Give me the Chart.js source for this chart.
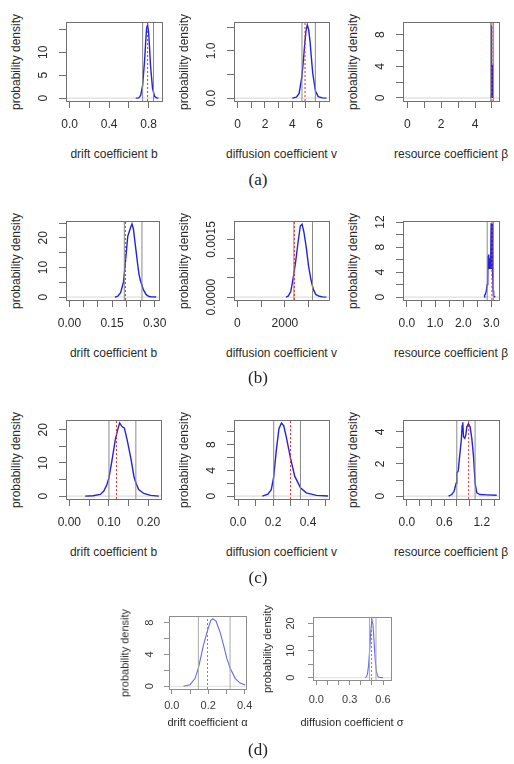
<!DOCTYPE html>
<html><head><meta charset="utf-8">
<script src="https://cdn.jsdelivr.net/npm/chart.js@4.4.1/dist/chart.umd.min.js"></script>
<style>
html,body{margin:0;padding:0;background:#fff;width:514px;height:764px;overflow:hidden;position:relative;}
.cap{position:absolute;font-family:"Liberation Serif","DejaVu Serif",serif;font-size:17px;color:#222;transform:translate(-50%,-50%);white-space:nowrap;}
.ttl{position:absolute;font-family:"Liberation Sans",Arial,Helvetica,sans-serif;color:#2a2a2a;white-space:nowrap;line-height:1;}
.pn{position:absolute;}
</style></head><body>
<script>
// ---------------- data ----------------
const captions = ['(a)', '(b)', '(c)', '(d)'];
const yTitleText = 'probability density';
const xTitlesABC = ['drift coefficient b', 'diffusion coefficient v', 'resource coefficient β'];
const xTitlesD = ['drift coefficient α', 'diffusion coefficient σ'];

// (a) drift b
const a1X = [0.67,0.70,0.72,0.74,0.76,0.77,0.78,0.79,0.80,0.81,0.82,0.84,0.86,0.88,0.90];
const a1Y = [0,0.05,0.6,2.8,8.3,12,15.3,16,14.5,11,7,2.2,0.4,0.05,0];
const a1CI = [0.74, 0.85]; const a1True = 0.79;
const a1XRange = [-0.036, 0.936]; const a1YRange = [-0.64, 16.64];
const a1XTicks = [0,0.2,0.4,0.6,0.8]; const a1XLabels = ['0.0','','0.4','','0.8'];
const a1YTicks = [0,5,10,15]; const a1YLabels = ['0','5','10',''];
// (a) diffusion v
const a2X = [4.0,4.3,4.5,4.7,4.8,4.9,5.0,5.1,5.2,5.3,5.4,5.5,5.7,5.9,6.2,6.5];
const a2Y = [0,0.02,0.1,0.45,0.75,1.1,1.42,1.55,1.45,1.2,0.85,0.52,0.15,0.03,0.005,0];
const a2CI = [4.71, 5.69]; const a2True = 4.93;
const a2XRange = [-0.27, 6.69]; const a2YRange = [-0.062, 1.612];
const a2XTicks = [0,1,2,3,4,5,6]; const a2XLabels = ['0','','2','','4','','6'];
const a2YTicks = [0,0.5,1.0,1.5]; const a2YLabels = ['0.0','','1.0',''];
// (a) resource beta
const a3X = [4.94,4.95,4.96,4.965,4.97,4.975,4.98,4.985,4.99,4.995,5.0,5.005,5.01,5.015,5.02,5.03,5.04,5.06];
const a3Y = [0,0.3,2,1.5,6,4,9.2,5,8.5,3,4.5,2,4.2,1.5,2.2,0.5,0.1,0];
const a3CI = [4.93, 5.1]; const a3True = 5.0;
const a3XRange = [-0.26, 5.42]; const a3YRange = [-0.38, 9.6];
const a3XTicks = [0,1,2,3,4,5]; const a3XLabels = ['0','','2','','4',''];
const a3YTicks = [0,2,4,6,8]; const a3YLabels = ['0','','4','','8'];

// (b) drift b
const b1X = [0.16,0.17,0.18,0.19,0.195,0.20,0.205,0.21,0.215,0.22,0.225,0.23,0.235,0.24,0.245,0.25,0.255,0.26,0.27,0.28,0.29,0.305];
const b1Y = [0,0.3,1.5,5,10,15,20.5,22,23.5,24.7,23,19,15,11,7.5,5.5,4,2.5,0.8,0.2,0.05,0];
const b1CI = [0.193, 0.255]; const b1True = 0.197;
const b1XRange = [-0.012, 0.316]; const b1YRange = [-0.99, 25.7];
const b1XTicks = [0,0.05,0.10,0.15,0.20,0.25,0.30]; const b1XLabels = ['0.00','','','0.15','','','0.30'];
const b1YTicks = [0,5,10,15,20,25]; const b1YLabels = ['0','','10','','20',''];
// (b) diffusion v
const b2X = [2050,2150,2250,2350,2450,2550,2650,2725,2800,2900,3000,3100,3200,3300,3450,3600,3750];
const b2Y = [0,0.00003,0.00015,0.0005,0.0009,0.0014,0.00185,0.0019,0.0017,0.0013,0.0008,0.00045,0.0002,0.00007,0.00002,0.000005,0];
const b2CI = [2380, 3165]; const b2True = 2400;
const b2XRange = [-145, 3860]; const b2YRange = [-0.000076, 0.00198];
const b2XTicks = [0,1000,2000,3000]; const b2XLabels = ['0','','2000',''];
const b2YTicks = [0,0.0005,0.0010,0.0015]; const b2YLabels = ['0.0000','','','0.0015'];
// (b) resource beta
const b3X = [2.74,2.76,2.79,2.82,2.85,2.87,2.88,2.90,2.91,2.92,2.93,2.94,2.95,2.96,2.97,2.98,2.99,3.00,3.01,3.02,3.03,3.04,3.05,3.06,3.08,3.11,3.14];
const b3Y = [0,0.3,0.5,1.0,2.0,2.3,6.6,5.0,6.8,4.6,6.2,5.0,5.6,4.6,6.5,5.5,11.8,4.5,11.5,5,11.7,3,8,1,0.2,0.05,0];
const b3CI = [2.85, 3.07]; const b3True = 3.02;
const b3XRange = [-0.14, 3.27]; const b3YRange = [-0.47, 12.17];
const b3XTicks = [0,0.5,1.0,1.5,2.0,2.5,3.0]; const b3XLabels = ['0.0','','1.0','','2.0','','3.0'];
const b3YTicks = [0,2,4,6,8,10,12]; const b3YLabels = ['0','','4','','8','','12'];

// (c) drift b
const c1X = [0.04,0.06,0.078,0.087,0.095,0.10,0.108,0.116,0.122,0.127,0.133,0.139,0.146,0.156,0.163,0.168,0.175,0.188,0.205,0.226];
const c1Y = [0,0.1,0.5,1.5,3.5,5.5,11,17,20,22.1,21,20.5,17,11,6,4,2,0.8,0.2,0];
const c1CI = [0.10, 0.168]; const c1True = 0.119;
const c1XRange = [-0.0085, 0.2315]; const c1YRange = [-0.88, 22.98];
const c1XTicks = [0,0.05,0.10,0.15,0.20]; const c1XLabels = ['0.00','','0.10','','0.20'];
const c1YTicks = [0,5,10,15,20]; const c1YLabels = ['0','','10','','20'];
// (c) diffusion v
const c2X = [0.139,0.171,0.19,0.204,0.219,0.234,0.248,0.261,0.276,0.30,0.324,0.357,0.39,0.448,0.514];
const c2Y = [0,0.3,1.0,3,7.2,10.5,11.4,11,9.2,5.9,3.1,1.3,0.5,0.1,0];
const c2CI = [0.204, 0.357]; const c2True = 0.30;
const c2XRange = [-0.023, 0.52]; const c2YRange = [-0.46, 11.86];
const c2XTicks = [0,0.1,0.2,0.3,0.4,0.5]; const c2XLabels = ['0.0','','0.2','','0.4',''];
const c2YTicks = [0,2,4,6,8,10]; const c2YLabels = ['0','','4','','8',''];
// (c) resource beta
const c3X = [0.668,0.72,0.757,0.789,0.80,0.822,0.843,0.87,0.886,0.896,0.907,0.928,0.944,0.96,0.987,1.014,1.04,1.067,1.094,1.12,1.17,1.28,1.44];
const c3Y = [0,0.1,0.3,0.8,1.45,1.55,2.4,3.4,4.4,4.6,3.7,3.6,3.8,4.3,4.5,4.3,3.6,2.5,0.8,0.2,0.1,0.08,0.05];
const c3CI = [0.80, 1.093]; const c3True = 0.99;
const c3XRange = [-0.062, 1.476]; const c3YRange = [-0.18, 4.74];
const c3XTicks = [0,0.2,0.4,0.6,0.8,1.0,1.2,1.4]; const c3XLabels = ['0.0','','','0.6','','','1.2',''];
const c3YTicks = [0,1,2,3,4]; const c3YLabels = ['0','','2','','4'];

// (d) drift alpha
const d1X = [0.064,0.10,0.128,0.146,0.174,0.196,0.214,0.225,0.243,0.265,0.284,0.302,0.32,0.348,0.375,0.403];
const d1Y = [0,0.2,1.0,2.3,5.2,7.0,8.3,8.5,8.2,6.8,5.2,3.5,2.3,1.0,0.4,0.15];
const d1CI = [0.146, 0.32]; const d1True = 0.196;
const d1XRange = [-0.0155, 0.4075]; const d1YRange = [-0.34, 8.84];
const d1XTicks = [0,0.1,0.2,0.3,0.4]; const d1XLabels = ['0.0','','0.2','','0.4'];
const d1YTicks = [0,2,4,6,8]; const d1YLabels = ['0','','4','','8'];
// (d) diffusion sigma
const d2X = [0.44,0.45,0.46,0.47,0.48,0.49,0.50,0.51,0.52,0.53,0.54,0.55,0.56,0.58,0.60];
const d2Y = [0,0.3,1.3,4.5,10,17,21.5,19.5,13,6.5,2.5,0.8,0.25,0.05,0];
const d2CI = [0.478, 0.537]; const d2True = 0.497;
const d2XRange = [-0.03, 0.672]; const d2YRange = [-0.86, 22.36];
const d2XTicks = [0,0.1,0.2,0.3,0.4,0.5,0.6]; const d2XLabels = ['0.0','','','0.3','','','0.6'];
const d2YTicks = [0,5,10,15,20]; const d2YLabels = ['0','','10','','20'];

// ---------------- styles / layout ----------------
const FONT = '"Liberation Sans", Arial, Helvetica, sans-serif';
const STYLE_ABC = {font:12, tick:7, curve:'#2424d6', curveW:1.4, ci:'#8a8a8a', box:'#707070', zero:'#d6d6d6', red:'#e5332e', text:'#2a2a2a'};
const STYLE_D = {font:11, tick:5, curve:'#6a6ae6', curveW:1.1, ci:'#ababab', box:'#8e8e8e', zero:'#e0e0e0', red:'#ee5a5a', text:'#3a3a3a'};
const OFF_ABC = {yTitle:50, yLabel:22, xLabel:24, xTitle:52.5};

const panels = [
  {box:[66,22,162,101],  off:OFF_ABC, x:a1X,y:a1Y,ci:a1CI,tv:a1True,xr:a1XRange,yr:a1YRange,xt:a1XTicks,xl:a1XLabels,yt:a1YTicks,yl:a1YLabels,title:xTitlesABC[0],st:STYLE_ABC},
  {box:[234,22,329,101], off:OFF_ABC, x:a2X,y:a2Y,ci:a2CI,tv:a2True,xr:a2XRange,yr:a2YRange,xt:a2XTicks,xl:a2XLabels,yt:a2YTicks,yl:a2YLabels,title:xTitlesABC[1],st:STYLE_ABC},
  {box:[403,22,499,101], off:OFF_ABC, x:a3X,y:a3Y,ci:a3CI,tv:a3True,xr:a3XRange,yr:a3YRange,xt:a3XTicks,xl:a3XLabels,yt:a3YTicks,yl:a3YLabels,title:xTitlesABC[2],st:STYLE_ABC},
  {box:[66,221,161,300], off:OFF_ABC, x:b1X,y:b1Y,ci:b1CI,tv:b1True,xr:b1XRange,yr:b1YRange,xt:b1XTicks,xl:b1XLabels,yt:b1YTicks,yl:b1YLabels,title:xTitlesABC[0],st:STYLE_ABC},
  {box:[234,221,329,300],off:OFF_ABC, x:b2X,y:b2Y,ci:b2CI,tv:b2True,xr:b2XRange,yr:b2YRange,xt:b2XTicks,xl:b2XLabels,yt:b2YTicks,yl:b2YLabels,title:xTitlesABC[1],st:STYLE_ABC},
  {box:[403,221,499,300],off:OFF_ABC, x:b3X,y:b3Y,ci:b3CI,tv:b3True,xr:b3XRange,yr:b3YRange,xt:b3XTicks,xl:b3XLabels,yt:b3YTicks,yl:b3YLabels,title:xTitlesABC[2],st:STYLE_ABC},
  {box:[66,420,161,499], off:OFF_ABC, x:c1X,y:c1Y,ci:c1CI,tv:c1True,xr:c1XRange,yr:c1YRange,xt:c1XTicks,xl:c1XLabels,yt:c1YTicks,yl:c1YLabels,title:xTitlesABC[0],st:STYLE_ABC},
  {box:[234,420,329,499],off:OFF_ABC, x:c2X,y:c2Y,ci:c2CI,tv:c2True,xr:c2XRange,yr:c2YRange,xt:c2XTicks,xl:c2XLabels,yt:c2YTicks,yl:c2YLabels,title:xTitlesABC[1],st:STYLE_ABC},
  {box:[403,420,499,499],off:OFF_ABC, x:c3X,y:c3Y,ci:c3CI,tv:c3True,xr:c3XRange,yr:c3YRange,xt:c3XTicks,xl:c3XLabels,yt:c3YTicks,yl:c3YLabels,title:xTitlesABC[2],st:STYLE_ABC},
  {box:[169,616,246,689],off:{yTitle:44,yLabel:19,xLabel:17,xTitle:33}, x:d1X,y:d1Y,ci:d1CI,tv:d1True,xr:d1XRange,yr:d1YRange,xt:d1XTicks,xl:d1XLabels,yt:d1YTicks,yl:d1YLabels,title:xTitlesD[0],st:STYLE_D},
  {box:[313,617,391,680],off:{yTitle:46,yLabel:22,xLabel:20,xTitle:42}, x:d2X,y:d2Y,ci:d2CI,tv:d2True,xr:d2XRange,yr:d2YRange,xt:d2XTicks,xl:d2XLabels,yt:d2YTicks,yl:d2YLabels,title:xTitlesD[1],st:STYLE_D}
];
const capPos = [[258,180],[258,378],[258,578],[258,750]];

// ---------------- plugin: box + rotated y tick labels ----------------
const panelDeco = {
  id: 'panelDeco',
  afterDraw(chart, args, o) {
    const {ctx, chartArea: ca, scales} = chart;
    ctx.save();
    ctx.strokeStyle = o.box; ctx.lineWidth = 1;
    ctx.strokeRect(Math.round(ca.left) + 0.5, Math.round(ca.top) + 0.5,
                   Math.round(ca.right - ca.left), Math.round(ca.bottom - ca.top));
    ctx.fillStyle = o.text;
    ctx.font = o.fontSize + 'px ' + FONT;
    ctx.textAlign = 'center'; ctx.textBaseline = 'middle';
    o.yTicks.forEach((v, i) => {
      const lab = o.yLabels[i];
      if (!lab) return;
      const py = scales.y.getPixelForValue(v);
      ctx.save();
      ctx.translate(ca.left - o.off, py);
      ctx.rotate(-Math.PI / 2);
      ctx.fillText(lab, 0, 0);
      ctx.restore();
    });
    ctx.restore();
  }
};

function vline(v, yr) { return [{x: v, y: yr[0]}, {x: v, y: yr[1]}]; }

function addText(cls, txt, x, y, size, rot) {
  const d = document.createElement('div');
  d.className = cls;
  d.textContent = txt;
  d.style.left = x + 'px'; d.style.top = y + 'px';
  if (size) d.style.fontSize = size + 'px';
  d.style.transform = 'translate(-50%,-50%)' + (rot ? ' rotate(-90deg)' : '');
  document.body.appendChild(d);
}

function makePanel(p) {
  const st = p.st, off = p.off;
  const lh = st.font * 1.2;
  const PADL = 40, PADT = 6, PADR = 16;
  const PADB = Math.round(off.xLabel + lh / 2 + 3);
  const bw = p.box[2] - p.box[0], bh = p.box[3] - p.box[1];
  const w = bw + PADL + PADR, h = bh + PADT + PADB;
  const div = document.createElement('div');
  div.className = 'pn';
  div.style.left = (p.box[0] - PADL) + 'px';
  div.style.top = (p.box[1] - PADT) + 'px';
  div.style.width = w + 'px'; div.style.height = h + 'px';
  const cv = document.createElement('canvas');
  cv.width = w; cv.height = h; cv.style.width = w + 'px'; cv.style.height = h + 'px';
  div.appendChild(cv); document.body.appendChild(div);

  const curve = p.x.map((xv, i) => ({x: xv, y: p.y[i]}));
  const common = {pointRadius: 0, fill: false, tension: 0, borderWidth: 1};
  new Chart(cv, {
    type: 'line',
    data: { datasets: [
      Object.assign({}, common, {data: vline(p.tv, p.yr), borderColor: st.red, borderDash: [2, 2]}),
      Object.assign({}, common, {data: vline(p.ci[0], p.yr), borderColor: st.ci}),
      Object.assign({}, common, {data: vline(p.ci[1], p.yr), borderColor: st.ci}),
      Object.assign({}, common, {data: curve, borderColor: st.curve, borderWidth: st.curveW}),
      Object.assign({}, common, {data: [{x: p.xr[0], y: 0}, {x: p.xr[1], y: 0}], borderColor: st.zero})
    ]},
    options: {
      responsive: false, animation: false, events: [],
      layout: {padding: {left: 0, top: PADT, right: PADR, bottom: 0}},
      plugins: {
        legend: {display: false}, tooltip: {enabled: false},
        panelDeco: {box: st.box, text: st.text, fontSize: st.font, yTicks: p.yt, yLabels: p.yl, off: off.yLabel}
      },
      scales: {
        x: {
          type: 'linear', position: 'bottom', min: p.xr[0], max: p.xr[1],
          afterBuildTicks: s => { s.ticks = p.xt.map(v => ({value: v})); },
          afterFit: s => { s.height = PADB; },
          grid: {display: true, drawOnChartArea: false, drawTicks: true, tickLength: st.tick, color: st.box, lineWidth: 1},
          border: {display: false},
          ticks: {autoSkip: false, maxRotation: 0, minRotation: 0, includeBounds: false,
                  padding: off.xLabel - st.tick - lh / 2, color: st.text,
                  font: {family: FONT, size: st.font},
                  callback: (v, i) => p.xl[i]},
          title: {display: false}
        },
        y: {
          type: 'linear', position: 'left', min: p.yr[0], max: p.yr[1],
          afterBuildTicks: s => { s.ticks = p.yt.map(v => ({value: v})); },
          afterFit: s => { s.width = PADL; },
          grid: {display: true, drawOnChartArea: false, drawTicks: true, tickLength: st.tick, color: st.box, lineWidth: 1},
          border: {display: false},
          ticks: {display: false, includeBounds: false},
          title: {display: false}
        }
      }
    },
    plugins: [panelDeco]
  });

  // axis titles as real text
  addText('ttl', p.title, (p.box[0] + p.box[2]) / 2, p.box[3] + off.xTitle, st.font, false);
  addText('ttl', yTitleText, p.box[0] - off.yTitle, (p.box[1] + p.box[3]) / 2, st.font, true);
}

panels.forEach(makePanel);

captions.forEach((c, i) => addText('cap', c, capPos[i][0], capPos[i][1], 0, false));
</script>
</body></html>
